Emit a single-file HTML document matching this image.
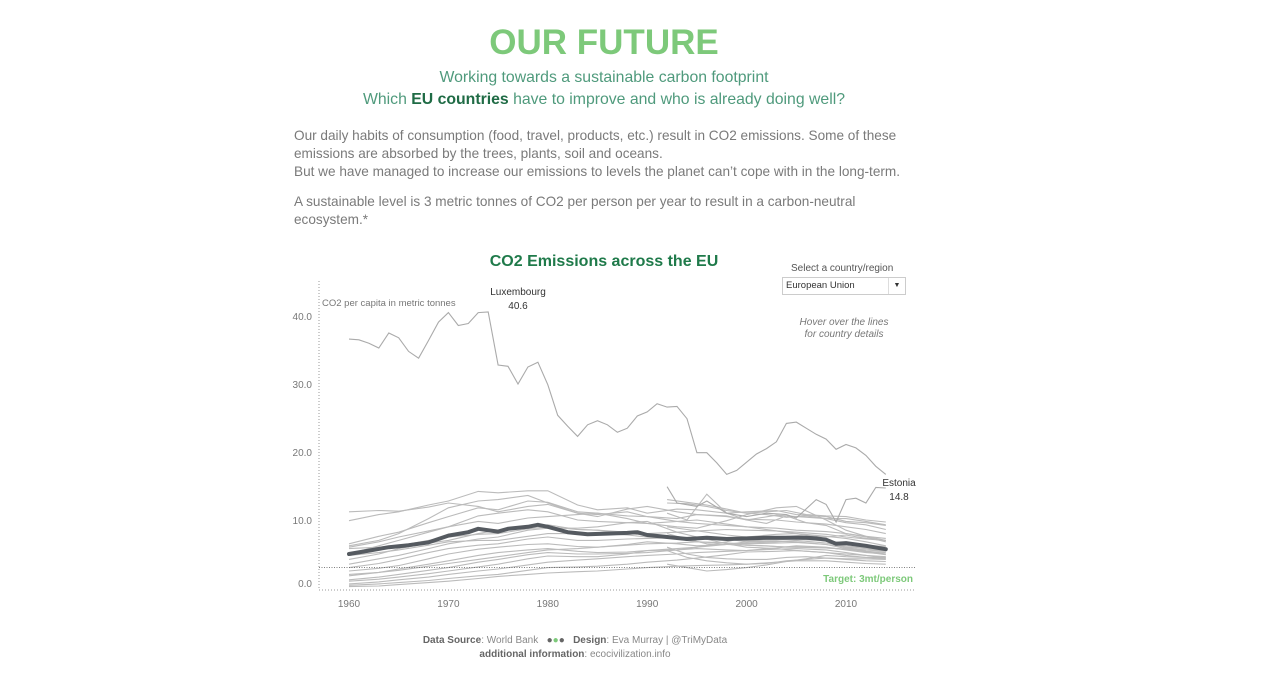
<!DOCTYPE html>
<html><head><meta charset="utf-8">
<style>
body{margin:0;width:1280px;height:690px;background:#fff;font-family:"Liberation Sans",sans-serif;position:relative;overflow:hidden}
.abs{position:absolute;white-space:nowrap}
#title{left:0;width:1208px;text-align:center;top:23px;font-size:35px;font-weight:bold;color:#7dc97a;letter-spacing:0px}
.sub{left:0;width:1208px;text-align:center;font-size:15.8px;color:#4f9a7c}
.body{left:294px;font-size:13.6px;color:#7a7a7a}
#foot{left:0;width:1150px;text-align:center;font-size:10px;color:#888;line-height:14px;top:634px}
#foot b{color:#666}
</style></head><body>
<div class="abs" id="title">OUR FUTURE</div>
<div class="abs sub" style="top:69px">Working towards a sustainable carbon footprint</div>
<div class="abs sub" style="top:91px">Which <b style="color:#1f6b45">EU countries</b> have to improve and who is already doing well?</div>
<div class="abs body" style="top:127px;line-height:18px">Our daily habits of consumption (food, travel, products, etc.) result in CO2 emissions. Some of these<br>emissions are absorbed by the trees, plants, soil and oceans.<br>But we have managed to increase our emissions to levels the planet can’t cope with in the long-term.</div>
<div class="abs body" style="top:193px;line-height:18px">A sustainable level is 3 metric tonnes of CO2 per person per year to result in a carbon-neutral<br>ecosystem.*</div>
<div class="abs" style="left:0;width:1208px;text-align:center;top:253px;font-size:16px;font-weight:bold;color:#1f7a4a">CO2 Emissions across the EU</div>
<div class="abs" style="left:791px;top:263px;font-size:10px;color:#555">Select a country/region</div>
<div class="abs" style="left:782px;top:277px;width:122px;height:16px;border:1px solid #ccc;font-size:9.5px;color:#333;line-height:16px"><span style="padding-left:3px">European Union</span><span style="position:absolute;right:0;top:0;width:16px;height:16px;border-left:1px solid #ddd;text-align:center;font-size:7px">▼</span></div>
<div class="abs" style="left:784px;width:120px;text-align:center;top:317px;font-size:10px;font-style:italic;color:#777;line-height:12px">Hover over the lines<br>for country details</div>
<svg class="abs" style="left:0;top:0" width="1280" height="690">
<g id="g"></g>
</svg>
<div class="abs" id="foot"><b>Data Source</b>: World Bank &nbsp; <span style="color:#666">●</span><span style="color:#7dc97a">●</span><span style="color:#666">●</span> &nbsp; <b>Design</b>: Eva Murray | @TriMyData<br><b>additional information</b>: ecocivilization.info</div>
<script>
const luxYears=[];for(let y=1960;y<=2014;y++)luxYears.push(y);
const luxValues=[36.6,36.5,36.0,35.3,37.5,36.8,34.8,33.8,36.4,39.1,40.5,38.6,38.9,40.5,40.6,32.8,32.6,30.0,32.5,33.2,29.9,25.4,23.8,22.3,24.0,24.6,24.0,22.9,23.5,25.3,25.9,27.1,26.6,26.7,24.9,19.9,19.9,18.4,16.7,17.3,18.5,19.7,20.5,21.5,24.2,24.4,23.5,22.6,21.9,20.4,21.1,20.6,19.5,17.9,16.7];
const euYears=[1960,1962,1964,1966,1968,1970,1972,1973,1975,1976,1978,1979,1980,1982,1984,1986,1988,1989,1990,1992,1994,1996,1998,2000,2002,2004,2006,2007,2008,2009,2010,2012,2014];
const euValues=[5.0,5.5,6.0,6.3,6.7,7.7,8.2,8.7,8.3,8.7,9.0,9.3,9.0,8.2,7.9,8.0,8.1,8.2,7.8,7.5,7.2,7.4,7.2,7.3,7.4,7.4,7.4,7.3,7.1,6.5,6.6,6.2,5.7];
const estYears=[1992,1993,1995,1996,1998,2000,2002,2004,2005,2007,2008,2009,2010,2011,2012,2013,2014];
const estValues=[14.9,12.5,12.0,12.8,11.0,10.5,11.0,10.8,10.3,13.0,12.3,9.7,13.0,13.2,12.5,14.8,14.7];
const otherYears=[1960,1963,1965,1968,1970,1973,1975,1978,1980,1983,1985,1988,1990,1993,1995,1998,2000,2003,2005,2008,2010,2012,2014];
const otherYears92=[1992,1994,1996,1998,2000,2002,2004,2006,2008,2010,2012,2014];
const others=[
[11.2,11.4,11.3,11.9,12.5,12.0,11.2,12.0,12.3,11.0,10.8,11.2,10.5,10.2,10.8,10.6,10.0,10.7,10.5,10.2,9.6,9.3,8.6],
[9.9,10.8,11.2,12.2,12.8,14.2,14.0,14.3,14.3,12.2,11.5,11.8,11.0,11.6,11.5,11.0,11.2,11.4,10.8,10.5,9.8,9.6,9.2],
[6.2,7.0,8.0,10.2,11.8,12.8,13.0,13.6,12.5,11.0,10.5,11.6,12.0,11.2,10.8,10.5,10.1,10.0,9.7,9.4,9.0,8.6,8.0],
[6.5,7.6,8.2,9.6,10.5,11.8,11.5,12.8,12.6,11.2,11.0,10.2,9.5,9.0,8.8,9.9,10.8,11.8,12.0,10.0,8.5,7.6,7.0],
[6.0,6.8,7.5,8.4,9.0,9.8,9.5,10.3,10.5,10.8,11.0,10.6,10.5,9.8,9.5,9.2,9.0,8.8,8.5,8.3,8.0,7.6,7.3],
[5.0,6.2,7.0,8.2,9.0,10.6,11.0,11.5,11.2,10.0,9.8,9.6,9.5,9.8,10.0,9.4,9.0,8.4,8.0,7.6,7.3,6.8,6.2],
[4.2,5.0,5.8,6.6,7.0,8.0,8.5,9.0,9.3,8.6,8.5,8.2,8.0,8.2,8.4,8.6,8.5,8.4,8.2,7.9,7.5,7.2,7.0],
[3.5,4.3,4.8,5.8,6.5,7.2,7.5,8.5,8.8,8.8,9.0,9.6,9.8,8.2,7.5,6.5,6.0,5.8,5.5,5.2,5.0,4.8,4.6],
[3.0,3.6,4.2,5.2,5.8,6.3,6.5,7.2,7.5,7.0,7.0,7.2,7.3,7.4,7.5,7.2,6.8,6.9,6.8,6.4,5.8,5.6,5.5],
[2.5,2.9,3.3,4.3,5.0,5.7,6.0,6.4,6.5,6.1,6.0,6.3,6.5,6.6,6.8,6.6,6.3,6.1,6.0,5.9,5.7,5.4,5.2],
[1.8,2.3,2.8,3.5,4.0,4.8,5.2,5.6,5.8,5.4,5.2,5.3,5.5,5.8,6.0,6.8,7.5,7.9,8.0,7.2,6.0,5.4,5.0],
[1.2,1.6,2.0,2.6,3.0,3.8,4.2,4.9,5.2,5.0,5.0,5.1,5.2,5.6,6.0,6.4,6.8,7.3,7.6,7.0,5.9,5.3,4.9],
[1.0,1.3,1.6,2.1,2.5,3.1,3.5,4.3,4.7,4.6,4.6,5.0,5.5,5.6,5.8,5.6,5.5,5.7,5.8,5.6,5.2,4.8,4.4],
[0.6,0.9,1.2,1.6,2.0,2.5,2.8,3.4,3.8,4.1,4.3,4.6,4.8,5.0,5.2,5.4,5.5,5.9,6.2,6.0,5.6,5.2,5.0],
[0.4,0.6,0.8,1.1,1.4,1.8,2.0,2.6,3.0,3.1,3.2,3.5,3.8,4.1,4.4,4.9,5.3,5.4,5.5,5.2,4.8,4.5,4.3],
[0.2,0.3,0.5,0.8,1.0,1.4,1.7,2.0,2.2,2.4,2.5,2.8,3.0,3.2,3.3,3.4,3.5,3.8,4.0,4.0,3.8,3.6,3.5],
[5.8,6.0,6.2,7.0,7.5,7.9,8.0,8.7,9.0,8.6,8.5,8.0,7.8,7.2,6.8,6.6,6.5,6.6,6.7,6.4,6.0,5.8,5.5],
[4.8,5.2,5.6,6.3,6.8,7.0,7.0,7.6,8.0,8.0,8.0,7.8,7.5,7.3,7.2,7.1,7.0,7.1,7.2,6.9,6.6,6.3,6.1],
[2.0,2.3,2.6,3.2,3.6,4.2,4.6,5.2,5.6,5.8,6.0,6.4,6.8,6.5,6.2,6.4,6.6,6.8,7.0,6.6,6.2,5.9,5.6]
];
const others92=[
[13.0,12.6,12.2,11.6,11.0,11.2,11.4,10.8,10.6,10.5,10.0,9.7],
[12.5,12.4,12.0,11.4,11.0,10.8,10.4,10.6,10.2,10.2,9.8,9.3],
[9.0,8.6,8.2,7.8,7.5,7.5,7.6,7.8,7.5,7.8,7.3,7.0],
[6.0,5.0,4.5,4.3,4.2,4.2,4.5,4.6,4.4,4.3,4.3,4.2],
[5.5,4.5,4.0,3.7,3.5,3.6,4.0,4.2,4.4,4.2,4.0,3.9],
[3.5,3.0,2.5,2.7,3.0,3.4,3.9,4.3,4.8,4.6,4.5,4.5],
[8.0,7.2,6.5,6.4,6.3,6.2,6.0,6.0,5.9,5.7,5.6,5.4],
[11.0,10.0,13.8,11.0,10.0,9.5,10.6,9.6,9.2,8.0,7.5,6.8]
];
const yTicks=[0,10,20,30,40];
const xTicks=[1960,1970,1980,1990,2000,2010];
const target=3;
const X=y=>349+(y-1960)*9.94;
const Y=v=>588-v*6.8;
const NS='http://www.w3.org/2000/svg';
const g=document.getElementById('g');
function mk(t,a){const e=document.createElementNS(NS,t);for(const k in a)e.setAttribute(k,a[k]);g.appendChild(e);return e;}
function pts(ys,vs){return ys.map((y,i)=>X(y).toFixed(1)+','+Y(vs[i]).toFixed(1)).join(' ');}
let ax=mk('line',{x1:319,y1:281,x2:319,y2:590,stroke:'#999','stroke-dasharray':'1,2'});

let bx=mk('line',{x1:319,y1:590,x2:915,y2:590,stroke:'#999','stroke-dasharray':'1,2'});

yTicks.forEach(v=>{const t=mk('text',{x:312,y:Y(v)+(v===0?-1:4),'text-anchor':'end','font-size':10,fill:'#777'});t.textContent=v.toFixed(1);
});
xTicks.forEach(v=>{const t=mk('text',{x:X(v),y:607,'text-anchor':'middle','font-size':10,fill:'#777'});t.textContent=v;
});
let at=mk('text',{x:322,y:306,'font-size':9.5,fill:'#777'});at.textContent='CO2 per capita in metric tonnes';

others.forEach(s=>{const l=mk('polyline',{points:pts(otherYears,s),fill:'none',stroke:'#bbb','stroke-width':1.1});
});
others92.forEach(s=>{const l=mk('polyline',{points:pts(otherYears92,s),fill:'none',stroke:'#bbb','stroke-width':1.1});
});
let le=mk('polyline',{points:pts(estYears,estValues),fill:'none',stroke:'#aaa','stroke-width':1.1});

let ll=mk('polyline',{points:pts(luxYears,luxValues),fill:'none',stroke:'#aaa','stroke-width':1.1});

let tl=mk('line',{x1:319,y1:Y(target),x2:915,y2:Y(target),stroke:'#555','stroke-dasharray':'1,1.5','stroke-width':0.8});

let tt=mk('text',{x:913,y:582,'text-anchor':'end','font-size':10,'font-weight':'bold',fill:'#7dc97a'});tt.textContent='Target: 3mt/person';

let el=mk('polyline',{points:pts(euYears,euValues),fill:'none',stroke:'#555a60','stroke-width':4,'stroke-linejoin':'round','stroke-linecap':'round'});

function lab(x,y,a,b,n){const t=mk('text',{x:x,y:y,'text-anchor':'middle','font-size':10,fill:'#333'});t.textContent=a;

const u=mk('text',{x:x,y:y+14,'text-anchor':'middle','font-size':10,fill:'#333'});u.textContent=b;
}
lab(518,295,'Luxembourg','40.6','luxembourg-label');
lab(899,486,'Estonia','14.8','estonia-label');
</script>
</body></html>
